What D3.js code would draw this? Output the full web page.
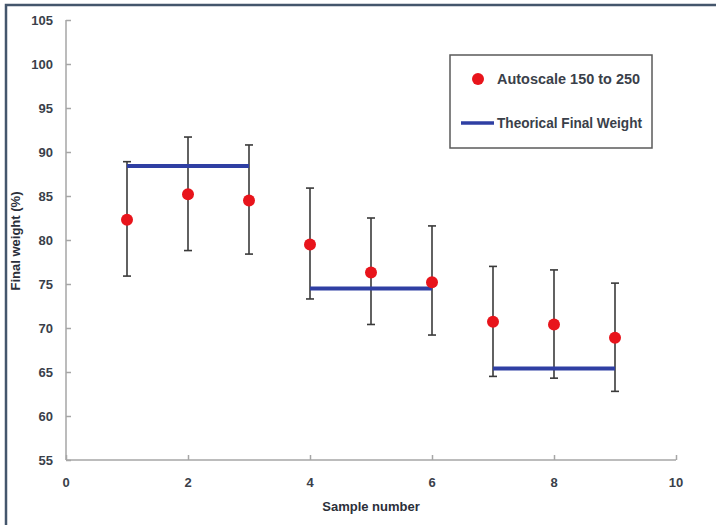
<!DOCTYPE html>
<html>
<head>
<meta charset="utf-8">
<script src="https://cdnjs.cloudflare.com/ajax/libs/d3/7.8.5/d3.min.js"></script>
<style>
  body { margin: 0; background: #fff; }
  svg text { font-family: "Liberation Sans", Arial, sans-serif; }
</style>
</head>
<body>
<div id="chart"></div>
<script>
// data
var samples = [1, 2, 3, 4, 5, 6, 7, 8, 9];
var finalWeight = [82.3, 85.2, 84.5, 79.5, 76.3, 75.2, 70.7, 70.4, 68.9];
var errTop = [88.9, 91.7, 90.8, 85.9, 82.5, 81.6, 77.0, 76.6, 75.1];
var errBottom = [75.9, 78.8, 78.4, 73.3, 70.4, 69.2, 64.5, 64.3, 62.8];
var theoryStart = [1, 4, 7];
var theoryEnd = [3, 6, 9];
var theoryValue = [88.4, 74.5, 65.4];
var xTicks = [0, 2, 4, 6, 8, 10];
var yTicks = [55, 60, 65, 70, 75, 80, 85, 90, 95, 100, 105];

var attrs = {
  width: 716,
  height: 525,
  textColor: '#3a3f4a',
  axisColor: '#a6a6a6',
  dotColor: '#e8141b',
  lineColor: '#2f3fa3',
  errColor: '#3a3a3a'
};

var svg = d3.select('#chart').append('svg')
  .attr('width', attrs.width)
  .attr('height', attrs.height);

// frame (only top and left visible in the shot)
svg.append('rect')
  .attr('x', 6).attr('y', 5)
  .attr('width', 716).attr('height', 540)
  .attr('fill', 'none')
  .attr('stroke', '#44566c')
  .attr('stroke-width', 2.5);

var x = d3.scaleLinear().domain([0, 10]).range([66, 676]);
var y = d3.scaleLinear().domain([55, 105]).range([460, 20]);

// y axis
var yAxis = svg.append('g')
  .attr('transform', 'translate(66,0)')
  .call(d3.axisRight(y).tickValues(yTicks).tickSize(5).tickFormat(''));
yAxis.select('.domain').attr('d', 'M0,20V460');

// x axis
var xAxis = svg.append('g')
  .attr('transform', 'translate(0,460)')
  .call(d3.axisTop(x).tickValues(xTicks).tickSize(5).tickFormat(''));
xAxis.select('.domain').attr('d', 'M66,0H676');

svg.selectAll('.domain, .tick line')
  .attr('stroke', attrs.axisColor)
  .attr('stroke-width', 1.5);

// tick labels
svg.append('g').selectAll('text')
  .data(yTicks)
  .join('text')
  .attr('x', 53)
  .attr('y', d => y(d) + 5)
  .attr('text-anchor', 'end')
  .attr('font-size', 13)
  .attr('font-weight', 'bold')
  .attr('fill', attrs.textColor)
  .text(d => d);

svg.append('g').selectAll('text')
  .data(xTicks)
  .join('text')
  .attr('x', d => x(d))
  .attr('y', 487)
  .attr('text-anchor', 'middle')
  .attr('font-size', 13)
  .attr('font-weight', 'bold')
  .attr('fill', attrs.textColor)
  .text(d => d);

// axis titles
svg.append('text')
  .attr('x', 371).attr('y', 511)
  .attr('text-anchor', 'middle')
  .attr('font-size', 13)
  .attr('font-weight', 'bold')
  .attr('fill', '#2b2f3a')
  .text('Sample number');

svg.append('text')
  .attr('transform', 'translate(20,241) rotate(-90)')
  .attr('text-anchor', 'middle')
  .attr('font-size', 13)
  .attr('font-weight', 'bold')
  .attr('fill', '#2b2f3a')
  .text('Final weight (%)');

// error bars
var err = svg.append('g').selectAll('g')
  .data(samples)
  .join('g');

err.append('line')
  .attr('x1', d => x(d)).attr('x2', d => x(d))
  .attr('y1', (d, i) => y(errTop[i]))
  .attr('y2', (d, i) => y(errBottom[i]))
  .attr('stroke', attrs.errColor)
  .attr('stroke-width', 1.6);

err.append('line')
  .attr('x1', d => x(d) - 4).attr('x2', d => x(d) + 4)
  .attr('y1', (d, i) => y(errTop[i]))
  .attr('y2', (d, i) => y(errTop[i]))
  .attr('stroke', attrs.errColor)
  .attr('stroke-width', 1.6);

err.append('line')
  .attr('x1', d => x(d) - 4).attr('x2', d => x(d) + 4)
  .attr('y1', (d, i) => y(errBottom[i]))
  .attr('y2', (d, i) => y(errBottom[i]))
  .attr('stroke', attrs.errColor)
  .attr('stroke-width', 1.6);

// theoretical lines
svg.append('g').selectAll('line')
  .data(theoryValue)
  .join('line')
  .attr('x1', (d, i) => x(theoryStart[i]))
  .attr('x2', (d, i) => x(theoryEnd[i]))
  .attr('y1', d => y(d))
  .attr('y2', d => y(d))
  .attr('stroke', attrs.lineColor)
  .attr('stroke-width', 4);

// points
svg.append('g').selectAll('circle')
  .data(finalWeight)
  .join('circle')
  .attr('cx', (d, i) => x(samples[i]))
  .attr('cy', d => y(d))
  .attr('r', 6)
  .attr('fill', attrs.dotColor);

// legend
var legend = svg.append('g').attr('transform', 'translate(450,55)');
legend.append('rect')
  .attr('width', 202).attr('height', 93)
  .attr('fill', '#fff')
  .attr('stroke', '#5a5a5a')
  .attr('stroke-width', 1.5);
legend.append('circle')
  .attr('cx', 28).attr('cy', 24).attr('r', 6)
  .attr('fill', attrs.dotColor);
legend.append('text')
  .attr('x', 47).attr('y', 29)
  .attr('font-size', 14)
  .attr('font-weight', 'bold')
  .attr('fill', attrs.textColor)
  .attr('textLength', 143)
  .attr('lengthAdjust', 'spacingAndGlyphs')
  .text('Autoscale 150 to 250');
legend.append('line')
  .attr('x1', 11).attr('x2', 44)
  .attr('y1', 68).attr('y2', 68)
  .attr('stroke', attrs.lineColor)
  .attr('stroke-width', 3.5);
legend.append('text')
  .attr('x', 47).attr('y', 73)
  .attr('font-size', 14)
  .attr('font-weight', 'bold')
  .attr('fill', attrs.textColor)
  .attr('textLength', 145)
  .attr('lengthAdjust', 'spacingAndGlyphs')
  .text('Theorical Final Weight');
</script>
</body>
</html>
